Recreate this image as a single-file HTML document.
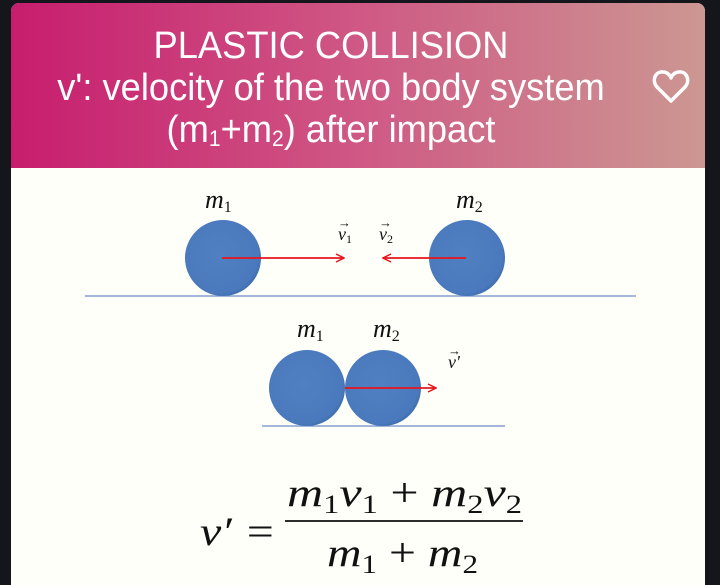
<!DOCTYPE html>
<html><head><meta charset="utf-8"><style>
html,body{margin:0;width:720px;height:585px;background:#14161b;overflow:hidden;font-family:"Liberation Sans",sans-serif}
#card{position:absolute;left:11px;top:3px;width:694px;height:582px;background:#fffffa;border-radius:8px 8px 0 0;overflow:hidden}
#hdr{position:absolute;left:0;top:0;width:694px;height:165px;background:linear-gradient(90deg,#c71d6e,#cf5884 50%,#cc9792)}
#title{position:absolute;left:0;width:640px;top:22px;text-align:center;color:#fff;font-size:38px;line-height:42px;white-space:nowrap;transform:scaleX(0.955)}
#title sub{font-size:22px;vertical-align:-4px;line-height:0}
.m{font-family:"Liberation Serif",serif;font-style:italic}
</style></head><body>
<div id="card">
<div id="hdr">
<div id="title">PLASTIC COLLISION<br>v': velocity of the two body system<br>(m<sub>1</sub>+m<sub>2</sub>) after impact</div>
<svg style="position:absolute;left:640px;top:64px" width="40" height="40" viewBox="0 0 40 40"><path d="M20 34 L6 20 C0 13 5 4 12 5 C16 5 19 8 20 11 C21 8 24 5 28 5 C35 4 40 13 34 20 Z" fill="none" stroke="#fff" stroke-width="3.5" stroke-linejoin="round"/></svg>
</div>
</div>
<svg style="position:absolute;left:0;top:0" width="720" height="585">
<defs><radialGradient id="g" cx="0.45" cy="0.45" r="0.6"><stop offset="0" stop-color="#5080c0"/><stop offset="0.85" stop-color="#4a7abd"/><stop offset="1" stop-color="#3c6aa8"/></radialGradient>
<marker id="ah" markerWidth="10" markerHeight="10" refX="9" refY="5" orient="auto" markerUnits="userSpaceOnUse"><path d="M1 1 L9 5 L1 9" fill="none" stroke="#e8141c" stroke-width="1.5"/></marker></defs>
<line x1="85" y1="296" x2="636" y2="296" stroke="#6a8cc8" stroke-width="1.2"/>
<line x1="262" y1="426" x2="505" y2="426" stroke="#6a8cc8" stroke-width="1.2"/>
<circle cx="223" cy="258" r="38" fill="url(#g)"/>
<circle cx="467" cy="258" r="38" fill="url(#g)"/>
<circle cx="307" cy="388" r="38" fill="url(#g)"/>
<circle cx="383" cy="388" r="38" fill="url(#g)"/>
<line x1="222" y1="258" x2="344" y2="258" stroke="#e8141c" stroke-width="1.8" marker-end="url(#ah)"/>
<line x1="466" y1="258" x2="383" y2="258" stroke="#e8141c" stroke-width="1.8" marker-end="url(#ah)"/>
<line x1="345" y1="388" x2="436" y2="388" stroke="#e8141c" stroke-width="1.8" marker-end="url(#ah)"/>
<g class="m" font-size="26" fill="#111">
<text x="205" y="208">m<tspan font-size="16" font-style="normal" dy="4">1</tspan></text>
<text x="456" y="208">m<tspan font-size="16" font-style="normal" dy="4">2</tspan></text>
<text x="297" y="337">m<tspan font-size="16" font-style="normal" dy="4">1</tspan></text>
<text x="373" y="337">m<tspan font-size="16" font-style="normal" dy="4">2</tspan></text>
<text x="338" y="240" font-size="18">v<tspan font-size="12" font-style="normal" dy="3">1</tspan></text>
<text x="379" y="240" font-size="18">v<tspan font-size="12" font-style="normal" dy="3">2</tspan></text>
<text x="448" y="368" font-size="18">v'</text>
</g>
<g font-size="13" fill="#111"><text x="338" y="227">→</text><text x="379" y="227">→</text><text x="448" y="355">→</text></g>
<g class="m" font-size="40" fill="#111">
<text x="200" y="545" textLength="76" lengthAdjust="spacingAndGlyphs">v′ =</text>
<text x="287" y="506" textLength="235" lengthAdjust="spacingAndGlyphs">m<tspan font-size="26" font-style="normal" dy="7">1</tspan><tspan dy="-7">v</tspan><tspan font-size="26" font-style="normal" dy="7">1</tspan><tspan font-style="normal" dy="-7"> + </tspan><tspan>m</tspan><tspan font-size="26" font-style="normal" dy="7">2</tspan><tspan dy="-7">v</tspan><tspan font-size="26" font-style="normal" dy="7">2</tspan></text>
<line x1="285" y1="521" x2="523" y2="521" stroke="#111" stroke-width="1.8"/>
<text x="327" y="566" textLength="151" lengthAdjust="spacingAndGlyphs">m<tspan font-size="26" font-style="normal" dy="7">1</tspan><tspan font-style="normal" dy="-7"> + </tspan><tspan>m</tspan><tspan font-size="26" font-style="normal" dy="7">2</tspan></text>
</g>
</svg>
</body></html>
